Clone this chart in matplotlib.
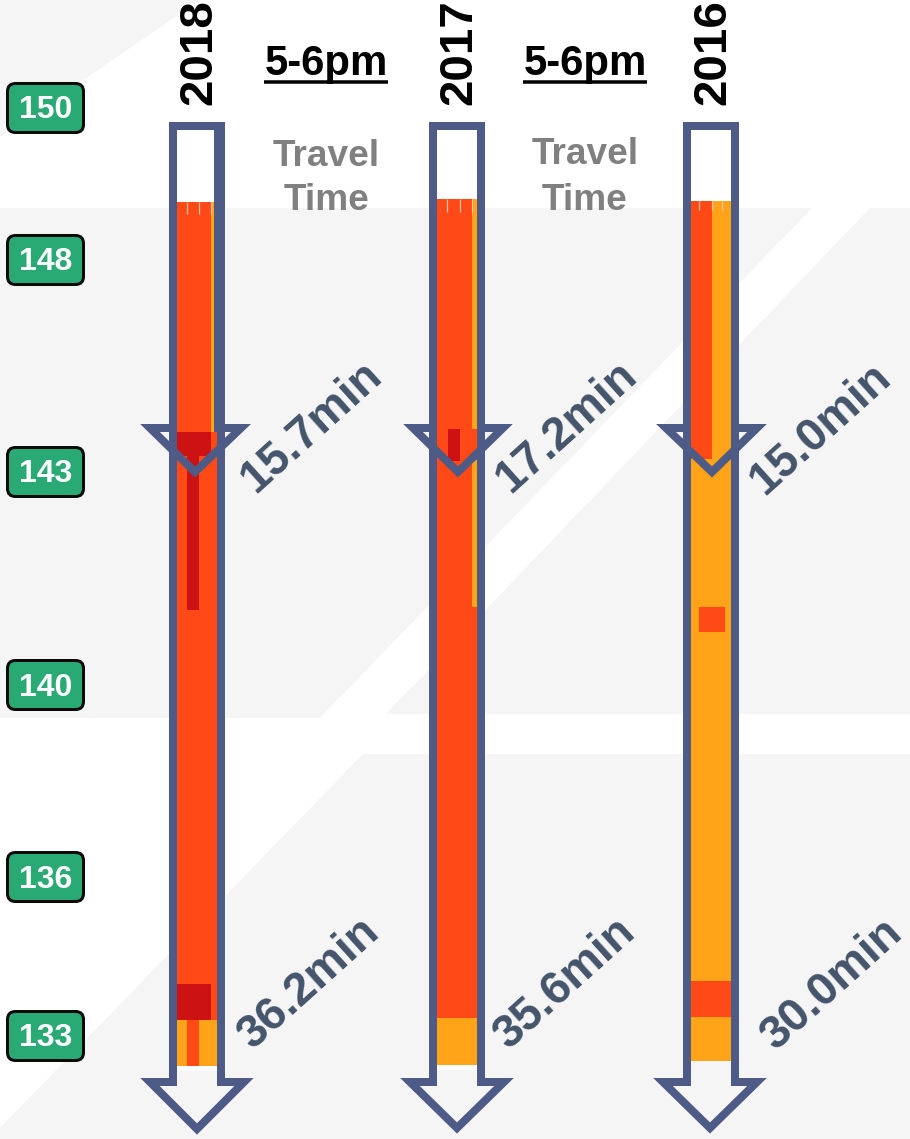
#!/usr/bin/env python3
"""Travel time heat strips, 5-6pm, for 2018, 2017 and 2016."""
import matplotlib
matplotlib.use('Agg')
import matplotlib.pyplot as plt
from matplotlib.patches import FancyBboxPatch

plt.rcParams['font.family'] = ['Liberation Sans', 'DejaVu Sans']

W, H = 910, 1139
RED = '#FF4A17'
ORANGE = '#FFA319'
DARK = '#CC1212'
OUTLINE = '#4F5B87'
BG = '#F5F5F5'
PX = 0.72  # points per pixel at dpi 100

mileposts = ['150', '148', '143', '140', '136', '133']
milepost_y = [108, 260, 472, 685, 877, 1036]
years = ['2018', '2017', '2016']
year_x = [199, 459, 713]
first_leg = ['15.7min', '17.2min', '15.0min']
second_leg = ['36.2min', '35.6min', '30.0min']
first_leg_xy = [(311, 427), (566, 427), (820, 429)]
second_leg_xy = [(309, 983), (565, 983), (832, 984)]

# heat cells: x0, x1, y0, y1, colour
cells_2018 = [
    (177, 217, 202, 1020, RED),
    (211, 217, 202, 432, ORANGE),
    (177, 211, 432, 456, DARK),
    (187, 199, 456, 610, DARK),
    (177, 211, 984, 1020, DARK),
    (177, 217, 1020, 1066, ORANGE),
    (187, 199, 1020, 1066, RED),
    (177, 217, 1066, 1071, 'white'),
]
cells_2017 = [
    (437, 477, 199, 1018, RED),
    (472, 477, 199, 429, ORANGE),
    (472, 477, 460, 607, ORANGE),
    (448, 460, 429, 461, DARK),
    (437, 477, 1018, 1065, ORANGE),
    (437, 477, 1065, 1070, 'white'),
]
cells_2016 = [
    (691, 731, 201, 1061, ORANGE),
    (691, 712, 201, 459, RED),
    (699, 725, 607, 632, RED),
    (691, 731, 981, 1017, RED),
]
all_cells = [cells_2018, cells_2017, cells_2016]

# faint ticks at the top of each strip
tick_x = [[187, 199, 211], [447, 460, 472], [699, 712, 722]]
tick_y = [(202, 214), (199, 212), (201, 210)]

# arrow outlines: shaft left, shaft right, wing left, wing right, centre, wing y, tip y
first_arrows = [
    (173, 218, 150, 241, 195, 428, 472),
    (433, 481, 413, 503, 458, 428, 472),
    (687, 735, 666, 757, 712, 428, 472),
]
second_arrows = [
    (173, 221, 150, 244, 197, 1082, 1129),
    (433, 481, 410, 504, 457, 1082, 1128),
    (687, 735, 663, 757, 710, 1082, 1128),
]

fig = plt.figure(figsize=(W / 100, H / 100), dpi=100)
ax = fig.add_axes([0, 0, 1, 1])
ax.set_xlim(0, W)
ax.set_ylim(H, 0)
ax.axis('off')

# road-like pale background
ax.fill([0, 200, 0], [0, 0, 137], color=BG, lw=0, zorder=0)
ax.fill([0, 812, 320, 0], [208, 208, 718, 718], color=BG, lw=0, zorder=0)
ax.fill([870, 910, 910, 386], [208, 208, 714, 714], color=BG, lw=0, zorder=0)
ax.fill([363, 910, 910, 0, 0], [754, 754, H, H, 1128], color=BG, lw=0, zorder=0)

for cells in all_cells:
    for x0, x1, y0, y1, colour in cells:
        ax.bar(x0, y1 - y0, width=x1 - x0, bottom=y0, align='edge', color=colour, lw=0, zorder=1)

for xs, (y0, y1) in zip(tick_x, tick_y):
    ax.vlines(xs, y0, y1, color='#FFC2A8', lw=1.2 * PX, zorder=2)


def arrow(spec):
    left, right, wing_l, wing_r, mid, wing_y, tip = spec
    xs = [left, right, right, wing_r, mid, wing_l, left]
    ys = [126, 126, wing_y, wing_y, tip, wing_y, wing_y]
    ax.fill(xs, ys, fill=False, edgecolor=OUTLINE, lw=8 * PX, joinstyle='miter', zorder=3)


for spec in first_arrows + second_arrows:
    arrow(spec)

for label, y in zip(mileposts, milepost_y):
    ax.add_patch(FancyBboxPatch((7.5, y - 24.5), 76, 49, boxstyle='round,pad=0,rounding_size=8',
                                fc='#29A974', ec='#0A0A0A', lw=3 * PX, zorder=4))
    ax.text(46, y + 2.5, label, color='white', fontsize=32 * PX, fontweight='bold',
            ha='center', va='center', zorder=5)

for label, x in zip(years, year_x):
    ax.text(x, 105, label, color='black', fontsize=47.5 * PX, fontweight='bold', rotation=90,
            ha='center', va='bottom', zorder=5)

for x0, x1 in [(264, 388), (523, 647)]:
    ax.text((x0 + x1) / 2, 75, '5-6pm', color='black', fontsize=42 * PX, fontweight='bold',
            ha='center', va='baseline', zorder=5)
    ax.plot([x0, x1], [81.5, 81.5], color='black', lw=3.5 * PX, solid_capstyle='butt', zorder=5)

for x, y0, y1 in [(326, 156, 201), (585, 155, 200)]:
    ax.text(x, y0, 'Travel', color='#808080', fontsize=37 * PX, fontweight='bold', ha='center', va='center', zorder=5)
    ax.text(x, y1, 'Time', color='#808080', fontsize=37 * PX, fontweight='bold', ha='center', va='center', zorder=5)

for label, (x, y) in list(zip(first_leg, first_leg_xy)) + list(zip(second_leg, second_leg_xy)):
    ax.text(x, y, label, color='#44546A', fontsize=46.5 * PX, fontweight='bold', rotation=42,
            rotation_mode='anchor', ha='center', va='center', zorder=5)

fig.savefig('out.png', dpi=100)
